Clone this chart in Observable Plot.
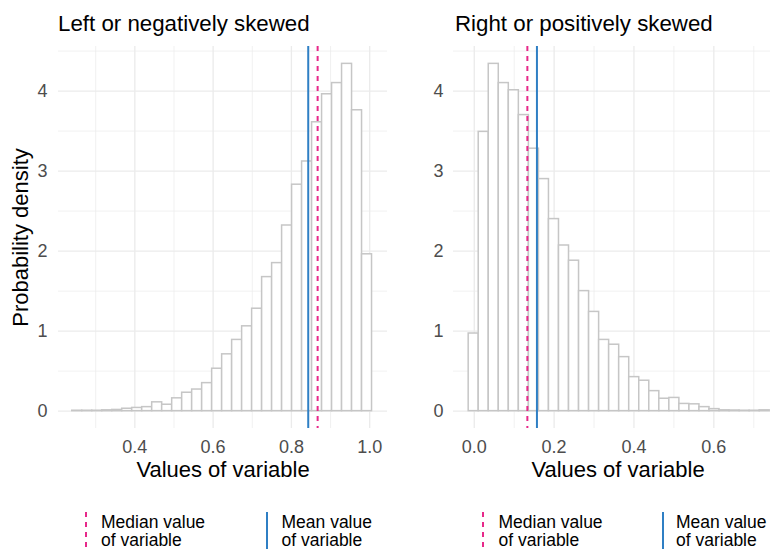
<!DOCTYPE html>
<html><head><meta charset="utf-8">
<script src="https://cdn.jsdelivr.net/npm/d3@7"></script>
<script src="https://cdn.jsdelivr.net/npm/@observablehq/plot@0.6"></script>
<style>
html,body{margin:0;padding:0;background:#fff;overflow:hidden;}
#root{position:relative;width:770px;height:549px;overflow:hidden;font-family:"Liberation Sans",Arial,sans-serif;}
.panel{position:absolute;top:0;}
.title{position:absolute;font-size:22.3px;line-height:22px;color:#000;white-space:nowrap;}
.leg{position:absolute;font-size:17.5px;line-height:18px;color:#000;white-space:pre;}
.key{position:absolute;}
</style></head><body><div id="root"></div>
<script>
// ---- data ----
const leftTitle = "Left or negatively skewed";
const rightTitle = "Right or positively skewed";
const xLabel = "Values of variable";
const yLabel = "Probability density";
const legendLabels = ["Median value\nof variable", "Mean value\nof variable"];

const leftBinStart = 0.2401;
const leftBinWidth = 0.02553;
const leftDensity = [0.005, 0.005, 0.005, 0.01, 0.015, 0.03, 0.04, 0.05, 0.11, 0.08,
  0.16, 0.23, 0.27, 0.35, 0.53, 0.71, 0.89, 1.06, 1.28, 1.675,
  1.85, 2.32, 2.83, 3.12, 3.61, 3.96, 4.10, 4.34, 3.76, 1.96];
const leftMean = 0.843;
const leftMedian = 0.867;

const rightBinStart = -0.014;
const rightBinWidth = 0.02513;
const rightDensity = [0.97, 3.49, 4.34, 4.10, 4.01, 3.70, 3.28, 2.90, 2.40, 2.07,
  1.88, 1.50, 1.24, 0.89, 0.83, 0.675, 0.425, 0.38, 0.25, 0.155,
  0.165, 0.09, 0.085, 0.05, 0.025, 0.01, 0.008, 0.005, 0.005, 0.01];
const rightMean = 0.157;
const rightMedian = 0.133;

const leftXTicks = [0.4, 0.6, 0.8, 1.0];
const leftXMinor = [0.3, 0.5, 0.7, 0.9];
const rightXTicks = [0.0, 0.2, 0.4, 0.6];
const rightXMinor = [0.1, 0.3, 0.5, 0.7];
const yTicks = [0, 1, 2, 3, 4];
const yMinor = [0.5, 1.5, 2.5, 3.5, 4.5];

// ---- styles ----
const PINK = "#e7298a";
const BLUE = "#2f7fc4";
const GRID = "#ebebeb";
const FONT = "'Liberation Sans', Arial, sans-serif";

function panel(o) {
  const bins = o.density.map((d, i) => ({x1: o.binStart + i * o.binWidth, x2: o.binStart + (i + 1) * o.binWidth, y: d}));
  const marks = [
    Plot.ruleX(o.xMinor, {stroke: GRID, strokeWidth: 0.7}),
    Plot.ruleY(yMinor, {stroke: GRID, strokeWidth: 0.7}),
    Plot.ruleX(o.xTicks, {stroke: GRID, strokeWidth: 1.3}),
    Plot.ruleY(yTicks, {stroke: GRID, strokeWidth: 1.3}),
    Plot.rect(bins, {x1: "x1", x2: "x2", y1: 0, y2: "y", fill: "white", stroke: "#c6c6c6", strokeWidth: 1.5}),
    Plot.ruleX([o.median], {stroke: PINK, strokeWidth: 2, strokeDasharray: "5,5"}),
    Plot.ruleX([o.mean], {stroke: BLUE, strokeWidth: 2}),
    Plot.axisX(o.xTicks, {tickSize: 0, tickPadding: 12, fontSize: 18, tickFormat: d3.format(".1f"), label: null}),
    Plot.axisY(yTicks, {tickSize: 0, tickPadding: o.yPad, fontSize: 18, tickFormat: d3.format("d"), label: null}),
    Plot.text([xLabel], {text: d => d, frameAnchor: "bottom", lineAnchor: "middle", dy: 41, fontSize: 22, fill: "#000"})
  ];
  if (o.yTitle) marks.push(Plot.text([yLabel], {text: d => d, frameAnchor: "left", textAnchor: "middle", lineAnchor: "middle", rotate: -90, dx: -38, fontSize: 22, fill: "#000"}));
  return Plot.plot({
    width: o.width, height: 490,
    marginLeft: o.marginLeft, marginRight: o.marginRight, marginTop: 46, marginBottom: 62,
    style: {fontFamily: FONT, color: "#4d4d4d", background: "transparent", overflow: "visible"},
    x: {domain: o.xDomain},
    y: {domain: [-0.217, 4.557]},
    marks
  });
}

const root = document.getElementById("root");

const left = panel({density: leftDensity, binStart: leftBinStart, binWidth: leftBinWidth, mean: leftMean, median: leftMedian,
  xDomain: [0.205, 1.0455], xTicks: leftXTicks, xMinor: leftXMinor, width: 400, marginLeft: 58, marginRight: 13, yPad: 11, yTitle: true});
left.classList.add("panel"); left.style.left = "0px";
root.appendChild(left);

const right = panel({density: rightDensity, binStart: rightBinStart, binWidth: rightBinWidth, mean: rightMean, median: rightMedian,
  xDomain: [-0.052, 0.772], xTicks: rightXTicks, xMinor: rightXMinor, width: 382, marginLeft: 53, marginRight: 0, yPad: 10, yTitle: false});
right.classList.add("panel"); right.style.left = "400px";
root.appendChild(right);

function addTitle(text, x) {
  const d = document.createElement("div");
  d.className = "title"; d.textContent = text;
  d.style.left = x + "px"; d.style.top = "12.5px";
  root.appendChild(d);
}
addTitle(leftTitle, 58);
addTitle(rightTitle, 455);

function addKey(x, color, dashed) {
  const ns = "http://www.w3.org/2000/svg";
  const s = document.createElementNS(ns, "svg");
  s.setAttribute("width", 6); s.setAttribute("height", 37);
  s.setAttribute("class", "key");
  s.style.left = (x - 3) + "px"; s.style.top = "512px";
  const l = document.createElementNS(ns, "line");
  l.setAttribute("x1", 3); l.setAttribute("x2", 3); l.setAttribute("y1", 0); l.setAttribute("y2", 37);
  l.setAttribute("stroke", color); l.setAttribute("stroke-width", 2);
  if (dashed) l.setAttribute("stroke-dasharray", "5,5");
  s.appendChild(l);
  root.appendChild(s);
}
function addLeg(text, x) {
  const d = document.createElement("div");
  d.className = "leg"; d.textContent = text;
  d.style.left = x + "px"; d.style.top = "513px";
  root.appendChild(d);
}
addKey(86, PINK, true);  addLeg(legendLabels[0], 101);
addKey(267, BLUE, false); addLeg(legendLabels[1], 281.5);
addKey(482.5, PINK, true); addLeg(legendLabels[0], 498.5);
addKey(662.5, BLUE, false); addLeg(legendLabels[1], 676);
</script></body></html>
